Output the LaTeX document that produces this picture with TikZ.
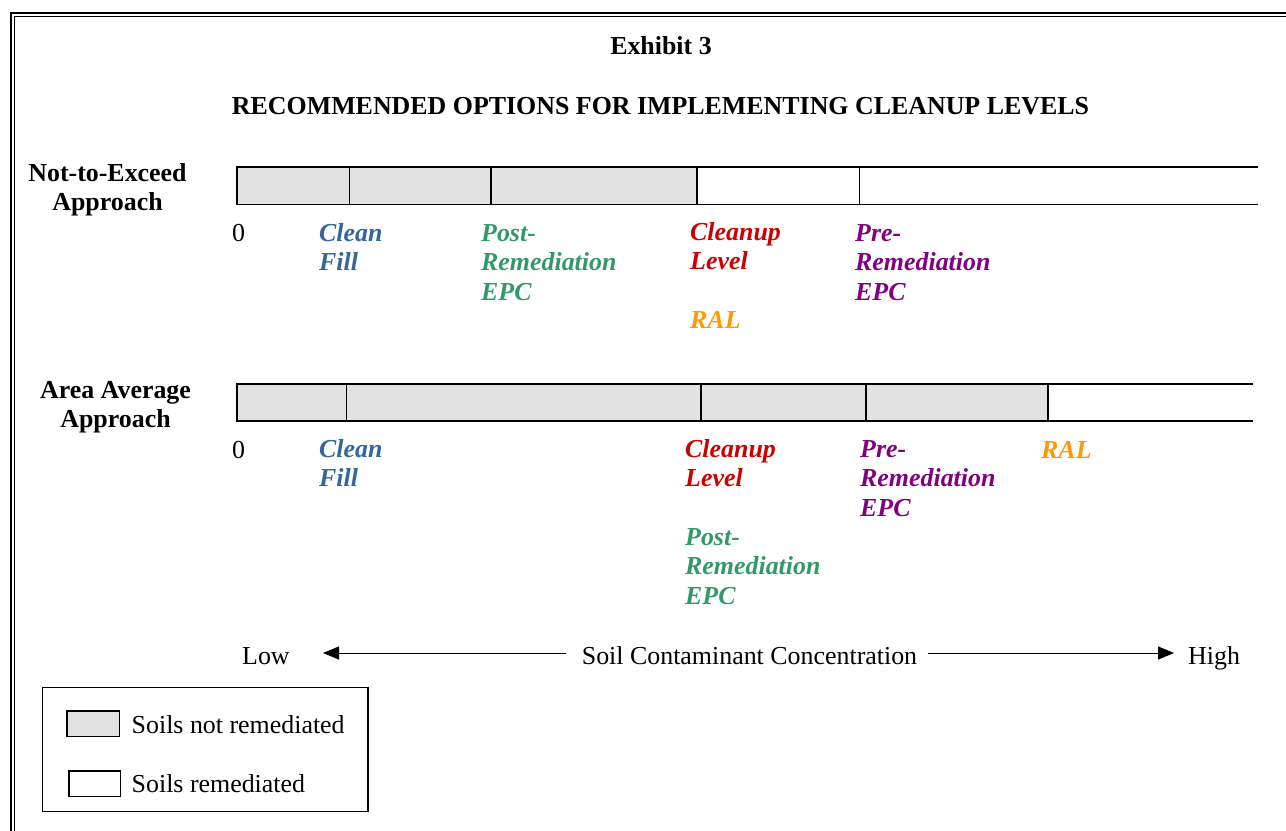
\documentclass[tikz,border=0pt]{standalone}
\usepackage{fontspec}
\setmainfont{Liberation Serif}
\usetikzlibrary{arrows.meta}
\definecolor{cblue}{RGB}{51,102,153}
\definecolor{cgreen}{RGB}{51,153,102}
\definecolor{cred}{RGB}{204,0,0}
\definecolor{corange}{RGB}{255,153,0}
\definecolor{cpurple}{RGB}{128,0,128}
\definecolor{shadegray}{RGB}{226,226,226}
\begin{document}
\begin{tikzpicture}[x=1bp,y=-1bp,
  txt/.style={inner sep=0pt, font=\fontsize{26}{29.5}\selectfont},
  btxt/.style={txt, font=\fontsize{26}{29.5}\selectfont\bfseries},
  lbl/.style={inner sep=0pt, anchor=north west, align=left, font=\fontsize{26}{29.5}\selectfont\bfseries\itshape},
  barline/.style={line width=1.4bp},
  shaded/.style={fill=shadegray},
  arr/.style={line width=1bp, -{Triangle[length=16bp,width=13bp]}},
  frameouter/.style={line width=2bp},
  frameinner/.style={line width=1bp}
]
\useasboundingbox (0,0) rectangle (1286,831);
% frame
\draw[frameouter] (10.5,831) -- (10.5,12.5) -- (1286,12.5);
\draw[frameinner] (14.5,831) -- (14.5,16.5) -- (1286,16.5);

% titles
\node[btxt, anchor=base] (exh) at (661,54.5) {Exhibit 3};
\node[btxt, anchor=base] (title) at (660.5,114) {RECOMMENDED OPTIONS FOR IMPLEMENTING CLEANUP LEVELS};

% row labels
\node[btxt, align=center, anchor=north] (row1) at (107.5,160.5) {\strut Not-to-Exceed\\Approach};
\node[btxt, align=center, anchor=north] (row2) at (115.5,377.5) {\strut Area Average\\Approach};

% bar 1
\fill[shaded] (237,167) rectangle (697,204.5);
\draw[barline] (1258,167) -- (237,167) -- (237,204.5) -- (1258,204.5);
\foreach \x in {349.5,491,697,859.5} \draw[barline] (\x,167) -- (\x,204.5);

% bar 2
\fill[shaded] (237,384) rectangle (1048,421);
\draw[barline] (1253,384) -- (237,384) -- (237,421) -- (1253,421);
\foreach \x in {346.5,701,866,1048} \draw[barline] (\x,384) -- (\x,421);

% bar 1 labels
\node[txt, anchor=base west] (z1) at (232,241.5) {0};
\node[lbl, text=cblue] (cf1) at (319,220.5) {\strut Clean\\Fill};
\node[lbl, text=cgreen] (post1) at (481,220.5) {\strut Post-\\Remediation\\EPC};
\node[lbl, text=cred] (cl1) at (690,219.5) {\strut Cleanup\\Level};
\node[lbl, text=corange] (ral1) at (690,307.5) {\strut RAL};
\node[lbl, text=cpurple] (pre1) at (855,220.5) {\strut Pre-\\Remediation\\EPC};

% bar 2 labels
\node[txt, anchor=base west] (z2) at (232,458) {0};
\node[lbl, text=cblue] (cf2) at (319,436.5) {\strut Clean\\Fill};
\node[lbl, text=cred] (cl2) at (685,436.5) {\strut Cleanup\\Level};
\node[lbl, text=cgreen] (post2) at (685,524.5) {\strut Post-\\Remediation\\EPC};
\node[lbl, text=cpurple] (pre2) at (860,436.5) {\strut Pre-\\Remediation\\EPC};
\node[lbl, text=corange] (ral2) at (1041,438) {\strut RAL};

% axis
\node[txt, anchor=base west] (low) at (242,664) {Low};
\node[txt, anchor=base] (axis) at (749.5,664) {Soil Contaminant Concentration};
\node[txt, anchor=base west] (high) at (1188,664) {High};
\coordinate (lstart) at (566,653);
\coordinate (ltip) at (323,653);
\coordinate (rstart) at (928,653);
\coordinate (rtip) at (1174,653);
\draw[arr] (lstart) -- (ltip);
\draw[arr] (rstart) -- (rtip);

% legend
\draw[line width=1.2bp] (42.5,687.5) rectangle (368,811.5);
\draw[line width=1.2bp, shaded] (67,711) rectangle (119.5,736.5);
\draw[line width=1.2bp] (69,771) rectangle (120.5,796.5);
\node[txt, anchor=base west] (leg1) at (131.5,733) {Soils not remediated};
\node[txt, anchor=base west] (leg2) at (131.5,792.5) {Soils remediated};
\end{tikzpicture}
\end{document}
